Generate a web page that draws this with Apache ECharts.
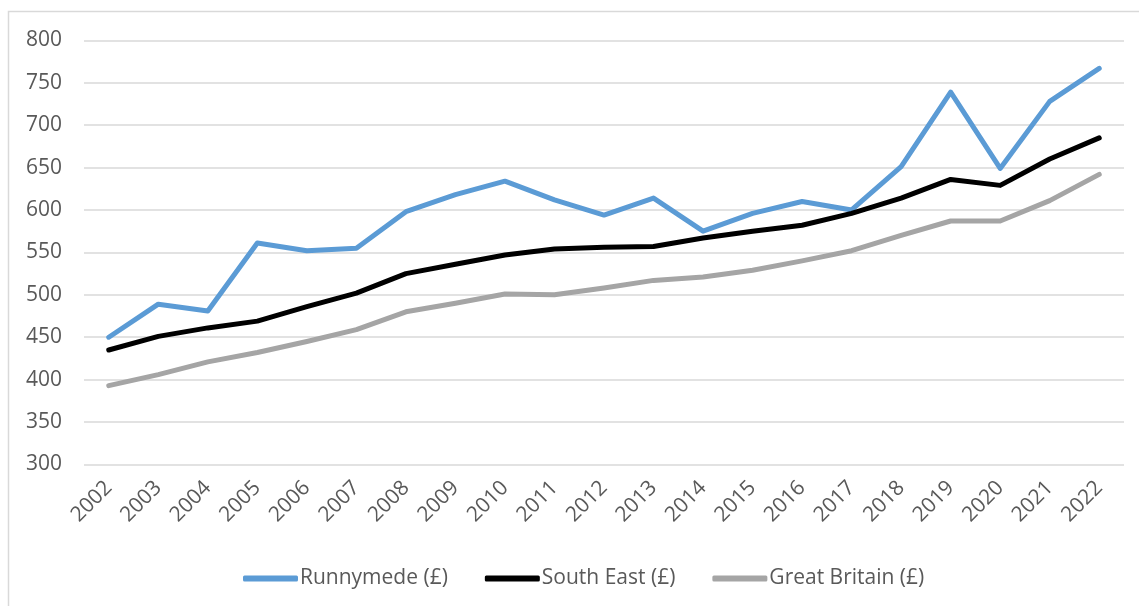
<!DOCTYPE html>
<html>
<head>
<meta charset="utf-8">
<script src="https://cdn.jsdelivr.net/npm/echarts@6/dist/echarts.min.js"></script>
<style>
html,body{margin:0;padding:0;background:#fff;}
#chart{width:1139px;height:606px;}
</style>
</head>
<body>
<div id="chart"></div>
<script>
const years = ['2002','2003','2004','2005','2006','2007','2008','2009','2010','2011','2012','2013','2014','2015','2016','2017','2018','2019','2020','2021','2022'];
const runnymede = [450,489,481,561,552,555,598,618,634,612,594,614,575,596,610,600,651,739,649,728,767];
const southEast = [435,451,461,469,486,502,525,536,547,554,556,557,567,575,582,596,614,636,629,660,685];
const greatBritain = [393,406,421,432,445,459,480,490,501,500,508,517,521,529,540,552,570,587,587,611,642];
const yTicks = {min:300, max:800, interval:50};

const chart = echarts.init(document.getElementById('chart'), null, {renderer:'canvas'});
const font = '"Open Sans", sans-serif';
function mk(name, data, color){
  return {name, type:'line', data, symbol:'none', smooth:false,
    lineStyle:{color, width:5, cap:'round', join:'round'}, itemStyle:{color},
    emphasis:{disabled:true}};
}
chart.setOption({
  animation:false,
  graphic:[{type:'rect', shape:{x:8.5,y:11.5,width:1200,height:700}, style:{fill:'none', stroke:'#d9d9d9', lineWidth:1.5}, silent:true}],
  grid:{left:84, right:15, top:40.3, bottom:141.5, containLabel:false},
  legend:{
    left:238, top:563, itemWidth:55, itemHeight:6, itemGap:37,
    icon:'roundRect',
    textStyle:{fontFamily:font, fontSize:21, color:'#595959', padding:[0,0,0,-3]},
    data:['Runnymede (£)','South East (£)','Great Britain (£)']
  },
  xAxis:{type:'category', data:years, boundaryGap:true,
    axisLine:{show:false}, axisTick:{show:false},
    axisLabel:{rotate:45, margin:20, fontFamily:font, fontSize:21, color:'#595959', interval:0}},
  yAxis:{type:'value', min:yTicks.min, max:yTicks.max, interval:yTicks.interval,
    axisLine:{show:false}, axisTick:{show:false},
    splitLine:{lineStyle:{color:'#d9d9d9', width:1.5}},
    axisLabel:{fontFamily:font, fontSize:21, color:'#595959', margin:22}},
  series:[mk('Runnymede (£)', runnymede, '#5b9bd5'), mk('South East (£)', southEast, '#000000'), mk('Great Britain (£)', greatBritain, '#a5a5a5')]
});
</script>
</body>
</html>
